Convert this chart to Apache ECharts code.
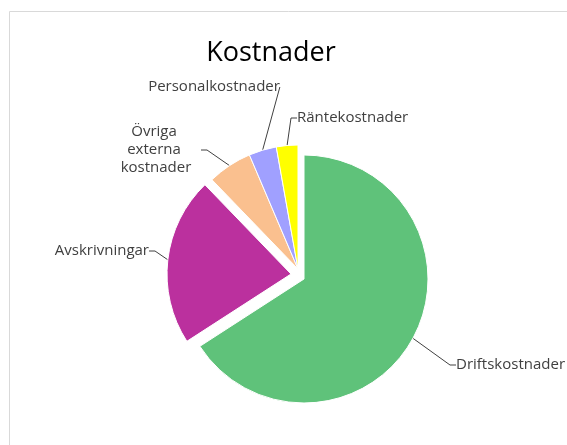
<!DOCTYPE html>
<html>
<head>
<meta charset="utf-8">
<script src="https://cdn.jsdelivr.net/npm/echarts@6/dist/echarts.min.js"></script>
<style>
  html, body { margin: 0; padding: 0; background: #fff; }
  #chart { width: 567px; height: 445px; }
</style>
</head>
<body>
<div id="chart"></div>
<script>
const title = 'Kostnader'
const categories = [
  'Driftskostnader',
  'Avskrivningar',
  'Övriga externa kostnader',
  'Personalkostnader',
  'Räntekostnader',
]
const values = [658, 219, 58, 36, 28]
const colors = ['#5FC27A', '#BB309E', '#FAC08F', '#A0A0FF', '#FFFF00']

const textColor = '#404040'
const fontFamily = '"Open Sans", Lato, sans-serif'

// pie geometry; exploded slices get their own shifted centre
const baseCenter = [298, 269]
const radius = 124
const sliceShift = [[6, 10], [-7, 5], [0, 0], [0, 0], [0, 0]]

// where Excel put each label (text anchor)
const labelSpots = [
  { x: 456, y: 365, align: 'left' },
  { x: 149, y: 251, align: 'right' },
  { x: 156, y: 150, align: 'center' },
  { x: 214, y: 87, align: 'center' },
  { x: 297, y: 118, align: 'left' },
]

// group slices that share the same shift into one pie series
function shiftKey(s) {
  return s[0] + ',' + s[1]
}
const groups = []
sliceShift.forEach((s, i) => {
  let g = groups.find(g => shiftKey(g.shift) === shiftKey(s))
  if (!g) {
    g = { shift: s, items: [] }
    groups.push(g)
  }
  g.items.push(i)
})

function labelLayout(params) {
  const s = labelSpots[params.dataIndex]
  return { x: s.x, y: s.y, align: s.align, verticalAlign: 'middle' }
}

function buildSeries(group) {
  return {
    type: 'pie',
    silent: true,
    center: [baseCenter[0] + group.shift[0], baseCenter[1] + group.shift[1]],
    radius: radius,
    startAngle: 90,
    clockwise: true,
    avoidLabelOverlap: false,
    emphasis: { disabled: true },
    label: {
      color: textColor,
      fontFamily: fontFamily,
      fontSize: 15,
      lineHeight: 18,
    },
    labelLine: {
      length: 10,
      length2: 6,
      lineStyle: { color: textColor, width: 1 },
    },
    labelLayout: labelLayout,
    data: categories.map((name, i) => {
      if (group.items.indexOf(i) < 0) {
        return {
          name: name,
          value: values[i],
          itemStyle: { color: 'rgba(0,0,0,0)', borderWidth: 0 },
          label: { show: false },
          labelLine: { show: false },
        }
      }
      return {
        name: name,
        value: values[i],
        itemStyle: { color: colors[i], borderColor: '#fff', borderWidth: 1 },
        label: i === 2 ? { width: 90, overflow: 'break', align: 'center' } : {},
      }
    }),
  }
}

const chart = echarts.init(document.getElementById('chart'))

const option = {
  animation: false,
  title: {
    text: title,
    left: 271,
    top: 40,
    padding: 0,
    textAlign: 'center',
    textStyle: {
      color: '#000',
      fontFamily: fontFamily,
      fontWeight: 'normal',
      fontSize: 27,
    },
  },
  graphic: [
    {
      type: 'rect',
      silent: true,
      shape: { x: 9.5, y: 11.5, width: 700, height: 600 },
      style: { fill: 'none', stroke: '#d9d9d9', lineWidth: 1 },
    },
  ],
  series: groups.map(buildSeries),
}

chart.setOption(option)
</script>
</body>
</html>
